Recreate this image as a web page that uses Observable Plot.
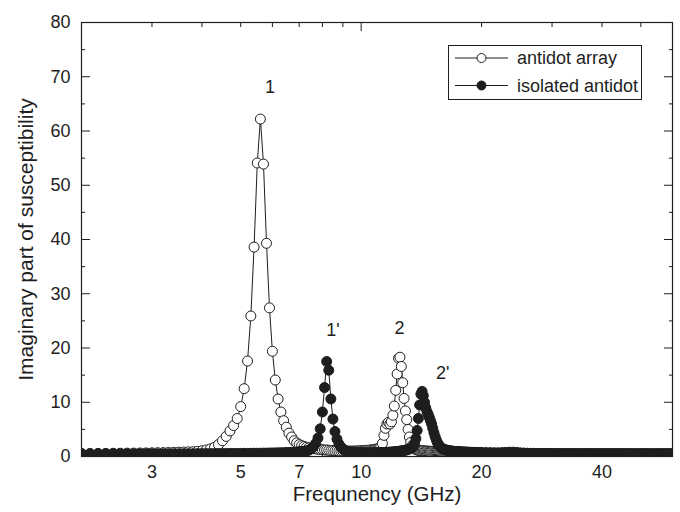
<!DOCTYPE html>
<html><head><meta charset="utf-8">
<script src="https://cdn.jsdelivr.net/npm/d3@7"></script>
<script src="https://cdn.jsdelivr.net/npm/@observablehq/plot@0.6"></script>
<style>body{margin:0;background:#fff;} #chart{width:680px;height:512px;}</style>
</head><body><div id="chart"></div>
<script>
// ---- data ----
const seriesNames = ["antidot array", "isolated antidot"];
const xTitle = "Frequnency (GHz)";
const yTitle = "Imaginary part of susceptibility";

const freq = [
  2.0,2.1,2.2,2.3,2.4,2.5,2.6,2.7,2.8,2.9,
  3.0,3.1,3.2,3.3,3.4,3.5,3.6,3.7,3.8,3.9,
  4.0,4.1,4.2,4.3,4.4,4.5,4.6,4.7,4.8,4.9,
  5.0,5.1,5.2,5.3,5.4,5.5,5.6,5.7,5.8,5.9,
  6.0,6.1,6.2,6.3,6.4,6.5,6.6,6.7,6.8,6.9,
  7.0,7.1,7.2,7.3,7.4,7.5,7.6,7.7,7.8,7.9,
  8.0,8.1,8.2,8.3,8.4,8.5,8.6,8.7,8.8,8.9,
  9.0,9.1,9.2,9.3,9.4,9.5,9.6,9.7,9.8,9.9,
  10.0,10.1,10.2,10.3,10.4,10.5,10.6,10.7,10.8,10.9,
  11.0,11.1,11.2,11.3,11.4,11.5,11.6,11.7,11.8,11.9,
  12.0,12.1,12.2,12.3,12.4,12.5,12.6,12.7,12.8,12.9,
  13.0,13.1,13.2,13.3,13.4,13.5,13.6,13.7,13.8,13.9,
  14.0,14.1,14.2,14.3,14.4,14.5,14.6,14.7,14.8,14.9,
  15.0,15.1,15.2,15.3,15.4,15.5,15.6,15.7,15.8,15.9,
  16.0,16.1,16.2,16.3,16.4,16.5,16.6,16.7,16.8,16.9,
  17.0,17.1,17.2,17.3,17.4,17.5,17.6,17.7,17.8,17.9,
  18.0,18.1,18.2,18.3,18.4,18.5,18.6,18.7,18.8,18.9,
  19.0,19.1,19.2,19.3,19.4,19.5,19.6,19.7,19.8,19.9,
  20.0,
  20.5,21,21.5,22,22.5,23,23.5,24,24.5,25,
  25.5,26,26.5,27,27.5,28,28.5,29,29.5,30,
  30.5,31,31.5,32,32.5,33,33.5,34,34.5,35,
  35.5,36,36.5,37,37.5,38,38.5,39,39.5,40,
  40.5,41,41.5,42,42.5,43,43.5,44,44.5,45,
  45.5,46,46.5,47,47.5,48,48.5,49,49.5,50,
  50.5,51,51.5,52,52.5,53,53.5,54,54.5,55,
  55.5,56,56.5,57,57.5,58,58.5,59,59.5,60
];

const antidotArray = [
  0.55,0.56,0.57,0.58,0.6,0.61,0.62,0.63,0.65,0.66,
  0.68,0.7,0.72,0.74,0.76,0.79,0.82,0.85,0.88,0.95,
  1.05,1.2,1.4,1.7,2.2,2.9,3.7,4.7,5.7,7.0,
  9.2,12.5,17.6,25.9,38.6,54.1,62.2,53.9,39.3,27.4,
  19.4,14.1,10.6,8.2,6.6,5.4,4.3,3.6,2.9,2.5,
  2.2,2.0,1.85,1.7,1.6,1.5,1.45,1.4,1.35,1.3,
  1.25,1.2,1.2,1.15,1.1,1.1,1.05,1.05,1.0,1.0,
  1.0,1.0,0.98,0.98,0.98,1.0,1.0,1.0,1.02,1.05,
  1.05,1.08,1.1,1.12,1.15,1.18,1.2,1.25,1.3,1.35,
  1.45,1.6,1.9,2.4,3.9,5.2,6.0,6.3,6.0,6.4,
  7.6,9.3,12.2,15.2,18.1,18.3,16.6,13.6,10.7,8.4,
  6.8,5.0,3.6,2.6,2.0,1.6,1.4,1.3,1.2,1.15,
  1.1,1.1,1.05,1.05,1.0,1.0,1.0,0.98,0.97,0.96,
  0.95,0.95,0.94,0.93,0.92,0.92,0.91,0.9,0.9,0.89,
  0.88,0.88,0.87,0.87,0.86,0.86,0.85,0.85,0.84,0.84,
  0.83,0.83,0.82,0.82,0.81,0.81,0.8,0.8,0.79,0.79,
  0.78,0.78,0.77,0.77,0.76,0.76,0.75,0.75,0.74,0.74,
  0.73,0.73,0.72,0.72,0.71,0.71,0.7,0.7,0.7,0.69,
  0.69,
  0.68,0.67,0.66,0.65,0.64,0.63,0.62,0.62,0.61,0.6,
  0.6,0.59,0.58,0.58,0.57,0.57,0.56,0.56,0.55,0.55,
  0.54,0.54,0.53,0.53,0.53,0.52,0.52,0.52,0.51,0.51,
  0.51,0.5,0.5,0.5,0.5,0.49,0.49,0.49,0.49,0.48,
  0.48,0.48,0.48,0.48,0.47,0.47,0.47,0.47,0.47,0.46,
  0.46,0.46,0.46,0.46,0.46,0.45,0.45,0.45,0.45,0.45,
  0.45,0.45,0.44,0.44,0.44,0.44,0.44,0.44,0.44,0.44,
  0.43,0.43,0.43,0.43,0.43,0.43,0.43,0.43,0.43,0.43
];

const isolatedAntidot = [
  0.5,0.5,0.5,0.5,0.5,0.5,0.5,0.5,0.5,0.5,
  0.5,0.5,0.5,0.51,0.51,0.51,0.52,0.52,0.52,0.53,
  0.53,0.53,0.54,0.54,0.55,0.55,0.55,0.56,0.56,0.57,
  0.57,0.58,0.58,0.59,0.6,0.6,0.61,0.62,0.63,0.64,
  0.65,0.66,0.67,0.68,0.7,0.72,0.74,0.76,0.79,0.82,
  0.86,0.91,0.97,1.05,1.15,1.4,1.8,2.4,3.4,5.1,
  8.2,12.7,17.5,15.9,10.6,6.9,4.6,3.2,2.3,1.75,
  1.4,1.15,1.02,0.92,0.86,0.8,0.76,0.73,0.71,0.7,
  0.69,0.68,0.68,0.68,0.68,0.68,0.68,0.68,0.69,0.7,
  0.7,0.71,0.72,0.73,0.74,0.75,0.76,0.78,0.8,0.82,
  0.84,0.86,0.89,0.92,0.95,0.99,1.03,1.08,1.12,1.17,
  1.22,1.3,1.4,1.5,1.6,1.8,2.4,3.3,4.8,7.0,
  9.5,11.5,12.0,11.2,10.0,9.0,8.3,7.8,7.2,6.6,
  6.0,5.2,4.4,3.7,3.1,2.6,2.2,1.9,1.7,1.5,
  1.4,1.3,1.25,1.2,1.15,1.1,1.07,1.04,1.01,0.98,
  0.96,0.94,0.92,0.9,0.88,0.86,0.85,0.84,0.83,0.82,
  0.81,0.8,0.8,0.79,0.79,0.78,0.78,0.77,0.77,0.76,
  0.76,0.75,0.75,0.74,0.74,0.73,0.73,0.72,0.72,0.71,
  0.71,
  0.7,0.68,0.66,0.66,0.7,0.76,0.8,0.8,0.74,0.66,
  0.62,0.59,0.57,0.56,0.55,0.54,0.53,0.53,0.52,0.52,
  0.52,0.51,0.51,0.51,0.51,0.5,0.5,0.5,0.5,0.5,
  0.5,0.5,0.5,0.5,0.5,0.5,0.5,0.5,0.5,0.5,
  0.5,0.5,0.5,0.5,0.5,0.5,0.5,0.5,0.5,0.5,
  0.49,0.49,0.49,0.49,0.49,0.49,0.49,0.49,0.49,0.49,
  0.49,0.49,0.49,0.49,0.49,0.49,0.49,0.49,0.49,0.49,
  0.49,0.49,0.49,0.49,0.49,0.49,0.49,0.49,0.49,0.49
];

const peakLabels = ["1", "1'", "2", "2'"];
const peakFreq   = [5.92, 8.5, 12.47, 16.0];
const peakValue  = [68.1, 23.2, 23.6, 15.3];

const xTickLabels = [3, 5, 7, 10, 20, 40];
const xMajorTicks = [10];
const xMinorTicks = [3, 4, 5, 6, 7, 8, 9, 20, 30, 40, 50];
const yTicks      = [0, 10, 20, 30, 40, 50, 60, 70, 80];
const yMinorTicks = [5, 15, 25, 35, 45, 55, 65, 75];

// ---- build tables ----
if (freq.length !== antidotArray.length || freq.length !== isolatedAntidot.length)
  throw new Error(`length mismatch ${freq.length} ${antidotArray.length} ${isolatedAntidot.length}`);
const rowsA = freq.map((f, i) => ({f, v: antidotArray[i]}));
const rowsB = freq.map((f, i) => ({f, v: isolatedAntidot[i]}));
const peaks = peakLabels.map((t, i) => ({t, f: peakFreq[i], v: peakValue[i]}));

const ink = "#1e1e1e";
const font = "'Liberation Sans', Arial, Helvetica, sans-serif";
const blank = () => "";
const R = 5;

function legendMark() {
  const g = d3.create("svg:g").attr("font-family", font).attr("font-size", 18)
    .attr("fill", ink).attr("text-anchor", "start");
  g.append("rect").attr("x", 448.5).attr("y", 45.5).attr("width", 193).attr("height", 54)
    .attr("fill", "white").attr("stroke", ink).attr("stroke-width", 1);
  seriesNames.forEach((name, i) => {
    const cy = 58 + i * 27.5;
    g.append("line").attr("x1", 455).attr("x2", 508).attr("y1", cy).attr("y2", cy)
      .attr("stroke", ink).attr("stroke-width", 1);
    g.append("circle").attr("cx", 481.5).attr("cy", cy).attr("r", 4.5)
      .attr("fill", i === 0 ? "white" : ink).attr("stroke", ink);
    g.append("text").attr("x", 517).attr("y", cy).attr("dy", "0.35em")
      .attr("text-anchor", "start").text(name);
  });
  return g.node();
}

const chart = Plot.plot({
  width: 680, height: 512,
  marginLeft: 81, marginRight: 8, marginTop: 22, marginBottom: 56,
  style: {fontFamily: font, fontSize: "18px", color: ink, background: "white"},
  x: {type: "log", domain: [2, 60]},
  y: {domain: [0, 80]},
  marks: [
    Plot.line(rowsA, {x: "f", y: "v", stroke: ink, strokeWidth: 1, clip: true}),
    Plot.dot(rowsA, {x: "f", y: "v", r: R, fill: "white", stroke: ink, strokeWidth: 1, clip: true}),
    Plot.line(rowsB, {x: "f", y: "v", stroke: ink, strokeWidth: 1, clip: true}),
    Plot.dot(rowsB, {x: "f", y: "v", r: R, fill: ink, stroke: ink, strokeWidth: 1, clip: true}),
    Plot.frame({stroke: ink, strokeWidth: 1.2}),
    // inward ticks on all four sides
    Plot.axisX({ticks: xMajorTicks, tickSize: -8, tickFormat: blank, label: null}),
    Plot.axisX({ticks: xMinorTicks, tickSize: -4, tickFormat: blank, label: null}),
    Plot.axisX({anchor: "top", ticks: xMajorTicks, tickSize: -8, tickFormat: blank, label: null}),
    Plot.axisX({anchor: "top", ticks: xMinorTicks, tickSize: -4, tickFormat: blank, label: null}),
    Plot.axisY({ticks: yTicks, tickSize: -9, tickFormat: blank, label: null}),
    Plot.axisY({ticks: yMinorTicks, tickSize: -4, tickFormat: blank, label: null}),
    Plot.axisY({anchor: "right", ticks: yTicks, tickSize: -9, tickFormat: blank, label: null}),
    Plot.axisY({anchor: "right", ticks: yMinorTicks, tickSize: -4, tickFormat: blank, label: null}),
    // tick labels
    Plot.axisX({ticks: xTickLabels, tickSize: 0, tickPadding: 9, tickFormat: d => String(d), label: null, fontSize: 18}),
    Plot.axisY({ticks: yTicks, tickSize: 0, tickPadding: 11, tickFormat: d => String(d), label: null, fontSize: 18}),
    // titles
    Plot.text([xTitle], {text: d => d, frameAnchor: "bottom", dy: 44, fontSize: 20.5, textAnchor: "middle"}),
    Plot.text([yTitle], {text: d => d, frameAnchor: "left", dx: -55, rotate: -90, fontSize: 21, textAnchor: "middle"}),
    // peak annotations
    Plot.text(peaks, {x: "f", y: "v", text: "t", fontSize: 18}),
    legendMark
  ]
});
document.getElementById("chart").appendChild(chart);
</script>
</body></html>
